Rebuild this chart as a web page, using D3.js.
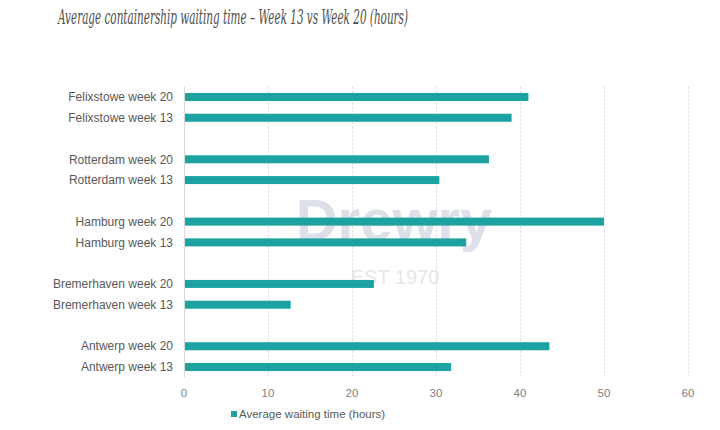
<!DOCTYPE html>
<html>
<head>
<meta charset="utf-8">
<script src="https://cdn.jsdelivr.net/npm/d3@7"></script>
<style>
  body { margin: 0; background: #fff; }
  svg { display: block; }
</style>
</head>
<body>
<div id="chart"></div>
<script>
// categories, top to bottom (blank slots separate the ports)
var categories = ["Felixstowe week 20", "Felixstowe week 13", "gap1",
                  "Rotterdam week 20", "Rotterdam week 13", "gap2",
                  "Hamburg week 20", "Hamburg week 13", "gap3",
                  "Bremerhaven week 20", "Bremerhaven week 13", "gap4",
                  "Antwerp week 20", "Antwerp week 13"];
var barLabels = ["Felixstowe week 20", "Felixstowe week 13",
                 "Rotterdam week 20", "Rotterdam week 13",
                 "Hamburg week 20", "Hamburg week 13",
                 "Bremerhaven week 20", "Bremerhaven week 13",
                 "Antwerp week 20", "Antwerp week 13"];
var waitHours = [41.0, 39.0, 36.3, 30.4, 50.0, 33.6, 22.6, 12.7, 43.5, 31.8];
var xTicks = [0, 10, 20, 30, 40, 50, 60];
var seriesName = "Average waiting time (hours)";

var width = 720, height = 430;
var margin = {top: 86.6, right: 32, bottom: 52.6, left: 184};

var svg = d3.select("#chart").append("svg")
  .attr("width", width)
  .attr("height", height);

// title (condensed italic serif)
svg.append("text")
  .attr("x", 58)
  .attr("y", 24)
  .attr("font-family", "DejaVu Serif, Liberation Serif, serif")
  .attr("font-style", "italic")
  .attr("font-size", "19.5px")
  .attr("fill", "#4d4d4d")
  .attr("textLength", 350)
  .attr("lengthAdjust", "spacingAndGlyphs")
  .text("Average containership waiting time \u2013 Week 13 vs Week 20 (hours)");

var x = d3.scaleLinear()
  .domain([0, 60])
  .range([margin.left, 688]);

var y = d3.scaleBand()
  .domain(categories)
  .range([margin.top, height - margin.bottom])
  .paddingInner(0.6)
  .paddingOuter(0.3);

// watermark
svg.append("text")
  .attr("x", 394).attr("y", 240)
  .attr("text-anchor", "middle")
  .attr("font-family", "Liberation Sans, Arial, sans-serif")
  .attr("font-weight", "bold")
  .attr("font-size", "58px")
  .attr("fill", "#dde0e9")
  .text("Drewry");
svg.append("text")
  .attr("x", 395).attr("y", 284)
  .attr("text-anchor", "middle")
  .attr("font-family", "Liberation Sans, Arial, sans-serif")
  .attr("font-size", "20px")
  .attr("fill", "#e6e7ec")
  .text("EST 1970");

// dotted grid lines
svg.append("g")
  .selectAll("line")
  .data(xTicks.filter(function(d){ return d > 0; }))
  .enter().append("line")
  .attr("x1", function(d){ return x(d) + 0.5; })
  .attr("x2", function(d){ return x(d) + 0.5; })
  .attr("y1", margin.top)
  .attr("y2", height - margin.bottom)
  .attr("stroke", "#d9d9d9")
  .attr("stroke-dasharray", "2,2");

// bars
svg.append("g")
  .selectAll("rect")
  .data(barLabels)
  .enter().append("rect")
  .attr("x", x(0))
  .attr("y", function(d){ return y(d) + y.bandwidth()/2 - 4; })
  .attr("width", function(d, i){ return x(waitHours[i]) - x(0); })
  .attr("height", 8)
  .attr("fill", "#1ba2a1");

// category axis line
svg.append("line")
  .attr("x1", x(0) + 0.5).attr("x2", x(0) + 0.5)
  .attr("y1", margin.top).attr("y2", height - margin.bottom)
  .attr("stroke", "#d9d9d9");

// category labels
svg.append("g")
  .selectAll("text")
  .data(barLabels)
  .enter().append("text")
  .attr("x", 173)
  .attr("y", function(d){ return y(d) + y.bandwidth()/2; })
  .attr("dy", "0.35em")
  .attr("text-anchor", "end")
  .attr("font-family", "Liberation Sans, Arial, sans-serif")
  .attr("font-size", "12px")
  .attr("fill", "#595959")
  .text(function(d){ return d; });

// x tick labels
svg.append("g")
  .selectAll("text")
  .data(xTicks)
  .enter().append("text")
  .attr("x", function(d){ return x(d); })
  .attr("y", 397)
  .attr("text-anchor", "middle")
  .attr("font-family", "Liberation Sans, Arial, sans-serif")
  .attr("font-size", "11.5px")
  .attr("fill", "#7f7f7f")
  .text(function(d){ return d; });

// legend
svg.append("rect")
  .attr("x", 231).attr("y", 411)
  .attr("width", 6).attr("height", 6)
  .attr("fill", "#1ba2a1");
svg.append("text")
  .attr("x", 239).attr("y", 418)
  .attr("font-family", "Liberation Sans, Arial, sans-serif")
  .attr("font-size", "11.5px")
  .attr("fill", "#595959")
  .text(seriesName);
</script>
</body>
</html>
